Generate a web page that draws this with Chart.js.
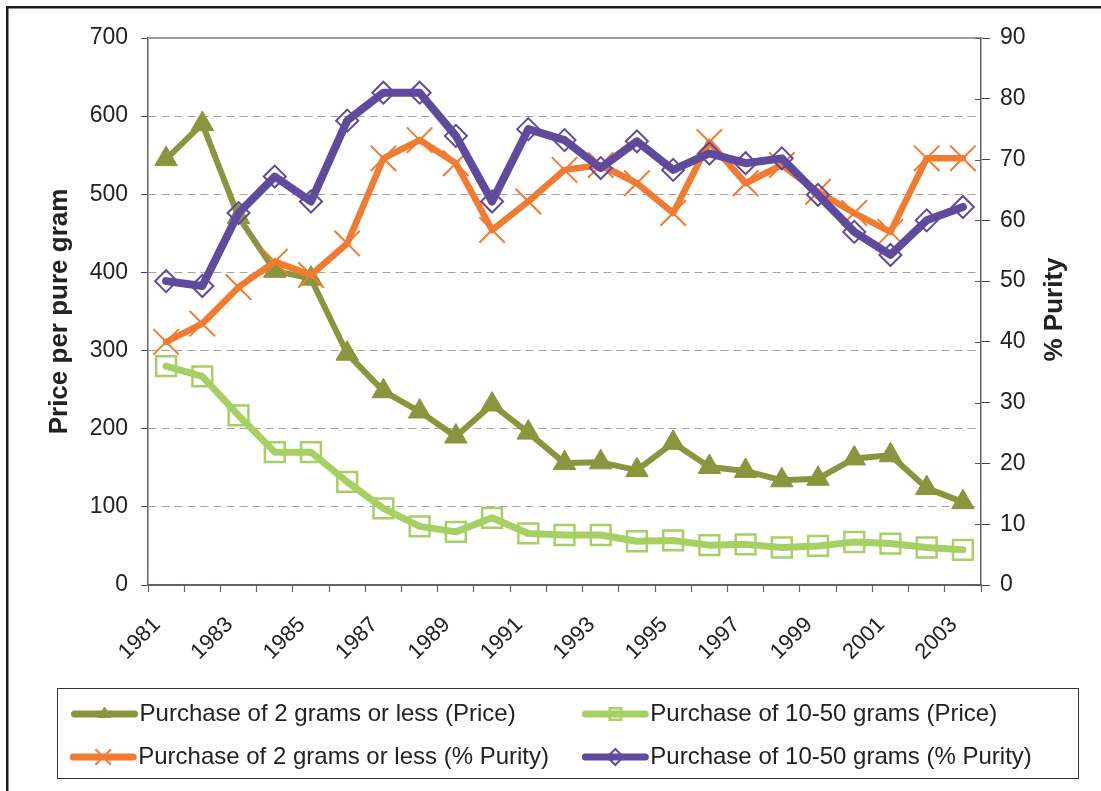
<!DOCTYPE html>
<html><head><meta charset="utf-8">
<script src="https://cdn.jsdelivr.net/npm/chart.js@4.4.1/dist/chart.umd.min.js"></script>
<style>html,body{margin:0;padding:0;background:#fff;overflow:hidden}canvas{display:block}</style>
</head><body>
<canvas id="c" width="1101" height="791"></canvas>
<script>
const years = ['1981','1982','1983','1984','1985','1986','1987','1988','1989','1990','1991','1992','1993','1994','1995','1996','1997','1998','1999','2000','2001','2002','2003'];
const price2g   = [545, 590, 471, 402, 392, 296, 248, 222, 190, 231, 195, 156, 157, 147, 182, 151, 146, 134, 136, 162, 166, 124, 106];
const price1050 = [280, 267, 217, 170, 170, 132, 98, 75, 68, 86, 66, 64, 64, 56, 57, 51, 52, 48, 50, 55, 53, 48, 45];
const purity2g   = [40, 43, 49, 53.2, 51, 56.2, 70.2, 73.2, 69.4, 58.4, 63.1, 68.3, 69.1, 66.1, 61.2, 72.9, 66.1, 69.1, 64.7, 61.2, 58.1, 70.2, 70.2];
const purity1050 = [50, 49.2, 61.2, 67.2, 63.1, 76.4, 81, 81, 73.9, 63.1, 75, 73.2, 68.6, 73, 68.3, 71, 69.4, 70.2, 64.2, 58.1, 54.3, 60, 62.2];
const seriesNames = ['Purchase of 2 grams or less (Price)','Purchase of 10-50 grams (Price)','Purchase of 2 grams or less (% Purity)','Purchase of 10-50 grams (% Purity)'];
const priceAxis = {min: 0, max: 700, step: 100, title: 'Price per pure gram'};
const purityAxis = {min: 0, max: 90, step: 10, title: '% Purity'};

const OLIVE = '#8B953D', LGREEN = '#A6D063', ORANGE = '#F37B31', PURPLE = '#5F4A9E';
const AXIS = '#6b605c', GRID = '#a9a19d', TXT = '#222';
const LEG_BOX_W = 57;
const legendPad = [7, 5, 2, 0];
const TITLE_FONT = "bold 26px 'Liberation Sans', Arial, Helvetica, sans-serif";

Chart.defaults.font.family = "'Liberation Sans', Arial, Helvetica, sans-serif";

const decor = {
  id: 'decor',
  beforeDraw(chart) {
    const ctx = chart.ctx;
    ctx.save();
    ctx.fillStyle = '#fff';
    ctx.fillRect(0, 0, chart.width, chart.height);
    ctx.fillStyle = '#1c1c1c';
    ctx.fillRect(6, 6, chart.width - 6, 2.5);
    ctx.fillRect(6, 6, 2.5, chart.height - 6);
    ctx.restore();
  },
  afterDraw(chart) {
    const ctx = chart.ctx, a = chart.chartArea;
    ctx.save();
    ctx.strokeStyle = '#a49c98';
    ctx.lineWidth = 2;
    ctx.beginPath(); ctx.moveTo(a.left, a.top); ctx.lineTo(a.right + 2, a.top); ctx.stroke();
    const y1 = chart.scales.y1;
    ctx.strokeStyle = '#555'; ctx.lineWidth = 1;
    y1.ticks.forEach(t => {
      const py = Math.round(y1.getPixelForValue(t.value)) + 0.5;
      ctx.beginPath(); ctx.moveTo(a.right - 6, py); ctx.lineTo(a.right, py); ctx.stroke();
    });
    // right axis title, reading bottom-to-top
    ctx.save();
    ctx.translate(y1.right - 46, (a.top + a.bottom) / 2 - 2);
    ctx.rotate(-Math.PI / 2);
    ctx.font = TITLE_FONT; ctx.fillStyle = TXT; ctx.textAlign = 'center'; ctx.textBaseline = 'middle';
    ctx.fillText(purityAxis.title, 0, 0);
    ctx.restore();
    const lg = chart.legend;
    ctx.strokeStyle = '#333'; ctx.lineWidth = 1;
    ctx.strokeRect(57.5, Math.round(lg.top) + 5.5, 1021, Math.round(lg.bottom - lg.top) - 6);
    lg.legendHitBoxes.forEach((hb, i) => {
      const ds = chart.data.datasets[lg.legendItems[i].datasetIndex];
      const cy = hb.top + hb.height / 2;
      const x0 = hb.left + 4, x1 = hb.left + LEG_BOX_W + 7;
      ctx.strokeStyle = ds.borderColor; ctx.lineWidth = 7; ctx.lineCap = 'round';
      ctx.beginPath(); ctx.moveTo(x0, cy); ctx.lineTo(x1, cy); ctx.stroke();
      ctx.lineCap = 'butt';
      ctx.fillStyle = ds.pointBackgroundColor;
      ctx.strokeStyle = ds.borderColor;
      ctx.lineWidth = ds.pointBorderWidth;
      Chart.helpers.drawPoint(ctx, {pointStyle: ds.pointStyle, rotation: 0, radius: ds.legendRadius, borderWidth: ds.pointBorderWidth}, (x0 + x1) / 2, cy);
    });
    ctx.restore();
  }
};

new Chart(document.getElementById('c'), {
  type: 'line',
  data: {
    labels: years,
    datasets: [
      {label: seriesNames[0], data: price2g, yAxisID: 'y', order: 4,
       borderColor: OLIVE, backgroundColor: OLIVE, borderWidth: 6,
       pointStyle: 'triangle', pointRadius: 13, pointBackgroundColor: OLIVE, pointBorderColor: OLIVE, pointBorderWidth: 1, legendRadius: 7},
      {label: seriesNames[1], data: price1050, yAxisID: 'y', order: 3,
       borderColor: LGREEN, backgroundColor: LGREEN, borderWidth: 7,
       pointStyle: 'rect', pointRadius: 14, pointBackgroundColor: 'rgba(0,0,0,0)', pointBorderColor: LGREEN, pointBorderWidth: 2.5, legendRadius: 8},
      {label: seriesNames[2], data: purity2g, yAxisID: 'y1', order: 2,
       borderColor: ORANGE, backgroundColor: ORANGE, borderWidth: 6.5,
       pointStyle: 'crossRot', pointRadius: 18, pointBackgroundColor: ORANGE, pointBorderColor: ORANGE, pointBorderWidth: 2, legendRadius: 11},
      {label: seriesNames[3], data: purity1050, yAxisID: 'y1', order: 1,
       borderColor: PURPLE, backgroundColor: PURPLE, borderWidth: 8,
       pointStyle: 'rectRot', pointRadius: 11, pointBackgroundColor: 'rgba(0,0,0,0)', pointBorderColor: PURPLE, pointBorderWidth: 2, legendRadius: 8}
    ].map(d => Object.assign({tension: 0, fill: false, borderCapStyle: 'round', borderJoinStyle: 'round', pointHoverRadius: d.pointRadius}, d))
  },
  options: {
    responsive: false,
    animation: false,
    events: [],
    devicePixelRatio: 1,
    layout: {padding: {top: 38, left: 0, right: 0, bottom: 12}},
    plugins: {
      tooltip: {enabled: false},
      title: {display: false},
      legend: {
        position: 'bottom',
        labels: {
          color: TXT,
          font: {size: 24},
          boxWidth: LEG_BOX_W,
          boxHeight: 8,
          padding: 19,
          sort: (a, b) => a.datasetIndex - b.datasetIndex,
          generateLabels(chart) {
            const items = Chart.defaults.plugins.legend.labels.generateLabels(chart);
            items.forEach(it => {
              it.text = it.text + ' '.repeat(legendPad[it.datasetIndex]);
              it.fillStyle = 'rgba(0,0,0,0)';
              it.strokeStyle = 'rgba(0,0,0,0)';
              it.lineWidth = 0;
            });
            return items;
          }
        }
      }
    },
    scales: {
      x: {
        type: 'category',
        offset: true,
        afterFit(s) { s.height = 98; },
        grid: {offset: true, drawOnChartArea: false, tickLength: 7, tickColor: AXIS, tickWidth: 1.2},
        border: {color: AXIS, width: 2},
        ticks: {
          autoSkip: false, minRotation: 45, maxRotation: 45, padding: 20, labelOffset: -9,
          color: TXT, font: {size: 22},
          callback(value, index) { return index % 2 === 0 ? this.getLabelForValue(value) : ''; }
        }
      },
      y: {
        position: 'left',
        min: priceAxis.min, max: priceAxis.max,
        afterFit(s) { s.width = 148; },
        ticks: {stepSize: priceAxis.step, color: TXT, font: {size: 23}, padding: 13},
        grid: {
          color: (c) => (c.tick && (c.tick.value === priceAxis.min || c.tick.value === priceAxis.max)) ? 'rgba(0,0,0,0)' : GRID,
          lineWidth: 1, tickLength: 7, tickColor: '#444', tickBorderDash: []
        },
        border: {color: AXIS, width: 1.5, dash: [8, 5]},
        title: {display: true, text: priceAxis.title, color: TXT, font: {size: 26, weight: 'bold'}, padding: {top: 44, bottom: 0}}
      },
      y1: {
        position: 'right',
        min: purityAxis.min, max: purityAxis.max,
        afterFit(s) { s.width = 120; },
        ticks: {stepSize: purityAxis.step, color: TXT, font: {size: 23}, padding: 10},
        grid: {drawOnChartArea: false, tickLength: 9, tickColor: '#444'},
        border: {color: AXIS, width: 1.5}
      }
    }
  },
  plugins: [decor]
});
</script>
</body></html>
